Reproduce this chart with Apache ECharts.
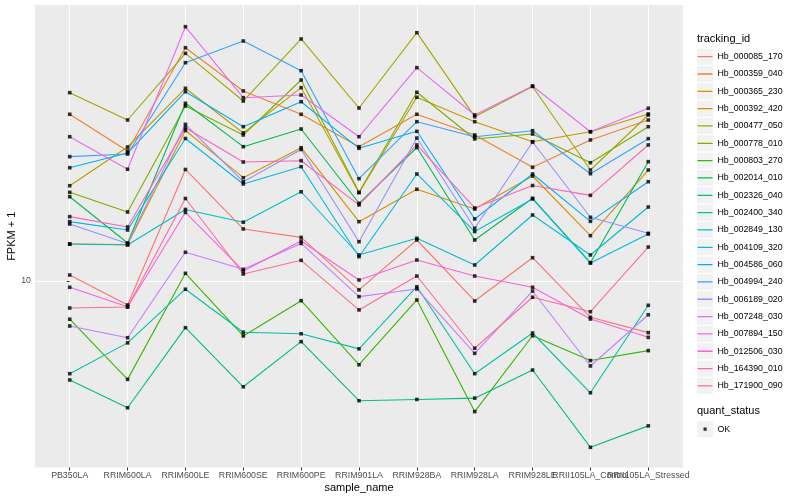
<!DOCTYPE html>
<html><head><meta charset="utf-8">
<script src="https://cdn.jsdelivr.net/npm/echarts@6/dist/echarts.min.js"></script>
<style>html,body{margin:0;padding:0;background:#fff}#c{width:800px;height:500px}</style>
</head><body><div id="c"></div>
<script>
const categories = ['PB350LA','RRIM600LA','RRIM600LE','RRIM600SE','RRIM600PE','RRIM901LA','RRIM928BA','RRIM928LA','RRIM928LE','RRII105LA_Control','RRII105LA_Stressed'];
const yTicks = [10];

const Hb_000085_170 = [10.47, 8.32, 23.54, 14.91, 13.98, 9.34, 13.70, 8.58, 11.96, 7.57, 6.73];
const Hb_000359_040 = [35.95, 27.13, 59.94, 43.00, 35.95, 28.04, 35.95, 30.67, 23.94, 29.52, 34.41];
const Hb_000365_230 = [13.28, 13.23, 31.74, 22.10, 27.82, 15.77, 20.22, 17.38, 22.39, 14.16, 23.44];
const Hb_000392_420 = [20.78, 27.97, 43.89, 31.15, 44.10, 19.70, 40.97, 33.97, 29.13, 31.45, 36.04];
const Hb_000477_050 = [42.44, 34.41, 57.41, 39.81, 64.09, 37.73, 67.26, 35.30, 44.51, 23.44, 35.76];
const Hb_000778_010 = [19.75, 16.98, 38.32, 30.67, 46.78, 19.75, 42.57, 29.75, 30.91, 24.80, 32.69];
const Hb_000803_270 = [7.46, 4.70, 10.61, 6.56, 8.60, 5.26, 8.65, 3.67, 6.57, 5.43, 5.86];
const Hb_002014_010 = [19.10, 13.39, 39.12, 28.04, 32.12, 18.16, 27.86, 13.70, 18.87, 11.51, 24.99];
const Hb_002326_040 = [4.68, 3.78, 6.99, 4.44, 6.28, 3.99, 4.03, 4.07, 5.05, 2.79, 3.29];
const Hb_002400_340 = [4.91, 6.22, 9.39, 6.75, 6.67, 5.94, 9.57, 4.91, 6.71, 4.24, 8.30];
const Hb_002849_130 = [13.28, 13.18, 17.32, 15.70, 19.84, 12.21, 13.88, 11.31, 16.60, 12.21, 17.65];
const Hb_004109_320 = [15.77, 14.79, 29.86, 21.06, 24.05, 12.05, 22.74, 14.62, 18.77, 11.48, 14.34];
const Hb_004586_060 = [23.86, 26.71, 42.77, 32.69, 39.60, 27.69, 31.55, 16.10, 22.74, 15.81, 21.43];
const Hb_004994_240 = [25.97, 26.51, 53.43, 63.10, 50.24, 21.93, 33.97, 30.27, 31.70, 22.79, 29.82];
const Hb_006189_020 = [15.49, 13.34, 33.29, 21.43, 27.44, 13.52, 29.97, 14.99, 29.07, 16.31, 14.42];
const Hb_007248_030 = [7.08, 6.47, 12.47, 10.94, 13.34, 8.87, 9.41, 5.74, 9.26, 5.21, 7.72];
const Hb_007894_150 = [30.27, 23.58, 70.43, 40.84, 41.69, 30.27, 51.42, 35.76, 44.68, 31.45, 37.65];
const Hb_012506_030 = [9.53, 8.21, 16.93, 10.80, 13.59, 10.08, 11.75, 10.39, 9.53, 7.47, 6.49];
const Hb_164390_010 = [16.39, 15.14, 32.44, 24.93, 25.18, 17.93, 28.41, 17.52, 20.81, 19.30, 28.41];
const Hb_171900_090 = [8.13, 8.19, 18.84, 10.55, 11.72, 8.01, 10.39, 5.97, 8.83, 7.90, 12.98];

const trackingIds = ['Hb_000085_170','Hb_000359_040','Hb_000365_230','Hb_000392_420','Hb_000477_050','Hb_000778_010','Hb_000803_270','Hb_002014_010','Hb_002326_040','Hb_002400_340','Hb_002849_130','Hb_004109_320','Hb_004586_060','Hb_004994_240','Hb_006189_020','Hb_007248_030','Hb_007894_150','Hb_012506_030','Hb_164390_010','Hb_171900_090'];
const seriesValues = [Hb_000085_170, Hb_000359_040, Hb_000365_230, Hb_000392_420, Hb_000477_050, Hb_000778_010, Hb_000803_270, Hb_002014_010, Hb_002326_040, Hb_002400_340, Hb_002849_130, Hb_004109_320, Hb_004586_060, Hb_004994_240, Hb_006189_020, Hb_007248_030, Hb_007894_150, Hb_012506_030, Hb_164390_010, Hb_171900_090];
const colors = ['#F8766D','#EA8331','#D89000','#C09B00','#A3A500','#7CAE00','#39B600','#00BB4E','#00BF7D','#00C1A3','#00BFC4','#00BAE0','#00B0F6','#35A2FF','#9590FF','#C77CFF','#E76BF3','#FA62DB','#FF62BC','#FF6C91'];
const quantStatus = ['OK'];

const font = '"Liberation Sans", Arial, Helvetica, sans-serif';
const keyH = 17.33;
const legendTop = 48;
const okTop = 420.7;

const graphics = [];
for (let i = 0; i < trackingIds.length; i++) {
  graphics.push({type: 'rect', silent: true, z: -10,
    shape: {x: 697, y: legendTop + i * keyH + 0.65, width: 16, height: 16},
    style: {fill: '#F2F2F2'}});
}
graphics.push({type: 'rect', silent: true, z: -10,
  shape: {x: 697, y: okTop + 0.65, width: 16, height: 16}, style: {fill: '#F2F2F2'}});

const lineIcon = 'path://M0,0L0.01,0L0,0.01Z M0,8.0H15V9.3H0Z M15,17.33L14.99,17.33L15,17.32Z';
const dotIcon = 'path://M0,0L0.01,0L0,0.01Z M6,6.9H9.2V10.1H6Z M15,17.33L14.99,17.33L15,17.32Z';

const series = trackingIds.map((name, k) => ({
  type: 'line', name: name, xAxisIndex: 0,
  data: seriesValues[k].map((v, i) => [i, v]),
  showSymbol: false, symbol: 'none',
  lineStyle: {width: 1.1, color: colors[k]},
  itemStyle: {color: colors[k]},
  silent: true, z: 2
}));
const allPoints = [];
seriesValues.forEach(arr => arr.forEach((v, i) => allPoints.push([i, v])));
series.push({type: 'scatter', name: quantStatus[0], xAxisIndex: 0, data: allPoints, symbol: 'rect', symbolSize: 3.6,
  itemStyle: {color: '#000000'}, silent: true, z: 3});

// labels are split over two overlaid axes so that the overlapping pair is not auto-hidden
const catIdx = categories.map((c, i) => i);
const catIdxA = catIdx.filter(i => i % 2 === 0);
const catIdxB = catIdx.filter(i => i % 2 === 1);
const labelStyle = {formatter: v => categories[Math.round(v)], showMinLabel: true, showMaxLabel: true, hideOverlap: false,
  fontSize: 8.8, color: '#4D4D4D', margin: 4, fontFamily: font};

const chart = echarts.init(document.getElementById('c'));
chart.setOption({
  animation: false,
  backgroundColor: '#ffffff',
  title: [
    {text: 'tracking_id', left: 697, top: 33, padding: 0, textStyle: {fontSize: 11, fontWeight: 'normal', color: '#000', fontFamily: font}},
    {text: 'quant_status', left: 697, top: 405, padding: 0, textStyle: {fontSize: 11, fontWeight: 'normal', color: '#000', fontFamily: font}}
  ],
  graphic: graphics,
  legend: [
    {data: trackingIds, orient: 'vertical', left: 697.5, top: legendTop, padding: 0, itemGap: 0,
     itemWidth: 15, itemHeight: keyH, icon: lineIcon, selectedMode: false,
     itemStyle: {borderWidth: 0}, textStyle: {fontSize: 8.8, color: '#000', fontFamily: font}},
    {data: quantStatus, orient: 'vertical', left: 697.5, top: okTop, padding: 0, itemGap: 0,
     itemWidth: 15, itemHeight: keyH, icon: dotIcon, selectedMode: false,
     itemStyle: {borderWidth: 0, color: '#000'}, textStyle: {fontSize: 8.8, color: '#000', fontFamily: font}}
  ],
  grid: {left: 35, right: 117, top: 5, bottom: 32.5, show: true, backgroundColor: '#EBEBEB', borderWidth: 0,
    containLabel: false, outerBoundsMode: 'none'},
  xAxis: [{
    type: 'value', min: -0.6, max: 10.6, position: 'bottom',
    axisLine: {show: false},
    axisTick: {show: true, customValues: catIdx, length: 3, lineStyle: {color: '#333333', width: 1}},
    axisLabel: Object.assign({customValues: catIdxA}, labelStyle),
    splitLine: {show: true, lineStyle: {color: '#FFFFFF', width: 1.1}},
    name: 'sample_name', nameLocation: 'middle', nameGap: 15, nameMoveOverlap: false,
    nameTextStyle: {fontSize: 11, color: '#000', fontFamily: font}
  }, {
    type: 'value', min: -0.6, max: 10.6, position: 'bottom', offset: 0,
    axisLine: {show: false},
    axisTick: {show: false, customValues: catIdxB},
    axisLabel: Object.assign({customValues: catIdxB}, labelStyle),
    splitLine: {show: false}
  }],
  yAxis: {
    type: 'log', logBase: 10, min: 2.39, max: 83.18,
    axisLine: {show: false},
    axisTick: {show: true, customValues: yTicks, length: 3, lineStyle: {color: '#333333', width: 1}},
    axisLabel: {customValues: yTicks, fontSize: 8.8, color: '#4D4D4D', margin: 4, fontFamily: font},
    splitLine: {show: true, lineStyle: {color: '#FFFFFF', width: 1.1}},
    minorTick: {show: false}, minorSplitLine: {show: false},
    name: 'FPKM + 1', nameLocation: 'middle', nameGap: 18, nameRotate: 90, nameMoveOverlap: false,
    nameTextStyle: {fontSize: 11, color: '#000', fontFamily: font}
  },
  series: series
});
</script>
</body></html>
